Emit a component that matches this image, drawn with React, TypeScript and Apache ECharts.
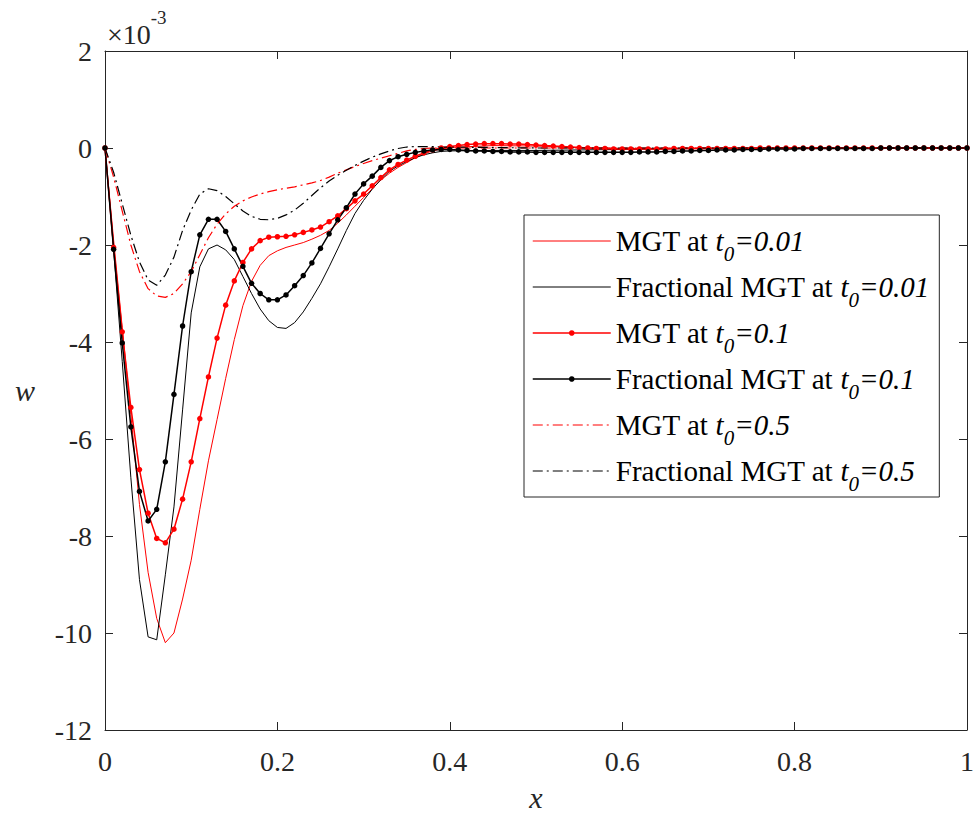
import React, { useEffect, useRef } from "react";
import * as echarts from "echarts";

// values are in units of 1e-3
const FONT = "'Liberation Serif', 'Times New Roman', 'DejaVu Serif', serif";

// sample grid for the marker series (step 0.01)
const xFine: number[] = Array.from({ length: 101 }, (_, i) => Math.round(i) / 100);

// sample grid for the plain-line series
const xCoarse = [
  0, 0.01, 0.02, 0.03, 0.04, 0.05, 0.06, 0.07, 0.08, 0.09,
  0.1, 0.11, 0.12, 0.13, 0.14, 0.15, 0.16, 0.17, 0.18, 0.19,
  0.2, 0.21, 0.22, 0.23, 0.24, 0.25, 0.26, 0.27, 0.28, 0.29,
  0.3, 0.31, 0.32, 0.33, 0.34, 0.35, 0.36, 0.37, 0.38, 0.39,
  0.4, 0.45, 0.5, 0.55, 0.6, 0.65, 0.7, 0.75, 0.8, 0.85, 0.9, 0.95, 1.0,
];

const mgt001 = [
  0, -1.9, -3.7, -5.5, -7.35, -8.75, -9.7, -10.2, -10.0, -9.3,
  -8.5, -7.45, -6.45, -5.6, -4.75, -3.95, -3.25, -2.75, -2.42, -2.22,
  -2.12, -2.05, -2.0, -1.95, -1.88, -1.8, -1.7, -1.55, -1.38, -1.2,
  -1.02, -0.84, -0.66, -0.52, -0.4, -0.3, -0.2, -0.12, -0.06, -0.02,
  0.01, 0.05, 0.04, 0.01, -0.01, -0.01, 0, 0, 0, 0, 0, 0, 0,
];

const frac001 = [
  0, -2.1, -4.4, -6.8, -8.9, -10.08, -10.14, -8.8, -7.4, -5.4,
  -3.4, -2.45, -2.08, -2.0, -2.1, -2.3, -2.65, -3.0, -3.32, -3.56,
  -3.7, -3.72, -3.6, -3.38, -3.1, -2.8, -2.45, -2.08, -1.7, -1.35,
  -1.08, -0.85, -0.65, -0.48, -0.37, -0.28, -0.2, -0.14, -0.1, -0.07,
  -0.06, -0.05, -0.05, -0.04, -0.03, -0.02, -0.01, 0, 0, 0, 0, 0, 0,
];

const mgt01 = [
  0, -2.05, -3.79, -5.35, -6.63, -7.53, -8.05, -8.14, -7.86, -7.24,
  -6.47, -5.58, -4.72, -3.92, -3.24, -2.74, -2.36, -2.08, -1.91, -1.84,
  -1.83, -1.82, -1.79, -1.74, -1.69, -1.63, -1.52, -1.4, -1.25, -1.09,
  -0.95, -0.78, -0.61, -0.45, -0.34, -0.25, -0.17, -0.1, -0.04, 0.0,
  0.03, 0.05, 0.07, 0.08, 0.09, 0.09, 0.09, 0.08, 0.08, 0.07,
  0.06, 0.05, 0.04, 0.03, 0.02, 0.01, 0.0, -0.01, -0.01, -0.02,
  -0.02, -0.02, -0.02, -0.02, -0.02, -0.02, -0.01, -0.01, -0.01, -0.01,
  -0.01, -0.01, -0.01, -0.01, -0.01, -0.01, 0, 0, 0, 0,
  0, 0, 0, 0, 0, 0, 0, 0, 0, 0,
  0, 0, 0, 0, 0, 0, 0, 0, 0, 0, 0,
];

const frac01 = [
  0, -2.09, -4.02, -5.75, -7.08, -7.69, -7.45, -6.47, -5.08, -3.67,
  -2.55, -1.79, -1.47, -1.47, -1.72, -2.08, -2.44, -2.79, -3.0, -3.13,
  -3.13, -3.03, -2.84, -2.63, -2.37, -2.07, -1.77, -1.48, -1.23, -0.95,
  -0.74, -0.58, -0.4, -0.26, -0.18, -0.13, -0.09, -0.06, -0.04, -0.03,
  -0.03, -0.04, -0.05, -0.06, -0.06, -0.07, -0.07, -0.08, -0.08, -0.08,
  -0.09, -0.09, -0.09, -0.09, -0.09, -0.09, -0.09, -0.09, -0.09, -0.09,
  -0.09, -0.09, -0.08, -0.08, -0.08, -0.07, -0.07, -0.06, -0.06, -0.05,
  -0.05, -0.04, -0.04, -0.04, -0.03, -0.03, -0.03, -0.02, -0.02, -0.02,
  -0.02, -0.01, -0.01, -0.01, -0.01, -0.01, -0.01, -0.01, -0.01, -0.01,
  0, 0, 0, 0, 0, 0, 0, 0, 0, 0, 0,
];

const mgt05 = [
  0, -0.6, -1.3, -2.0, -2.55, -2.9, -3.05, -3.08, -3.0, -2.8,
  -2.55, -2.2, -1.85, -1.57, -1.36, -1.2, -1.09, -1.01, -0.95, -0.9,
  -0.86, -0.83, -0.8, -0.76, -0.72, -0.67, -0.6, -0.52, -0.45, -0.38,
  -0.32, -0.26, -0.21, -0.16, -0.11, -0.06, -0.03, -0.01, 0, 0,
  0, 0, 0, 0, 0, 0, 0, 0, 0, 0, 0, 0, 0,
];

const frac05 = [
  0, -0.5, -1.15, -1.8, -2.35, -2.72, -2.83, -2.62, -2.25, -1.7,
  -1.28, -0.95, -0.84, -0.88, -1.0, -1.15, -1.3, -1.41, -1.47, -1.48,
  -1.45, -1.38, -1.28, -1.14, -0.98, -0.82, -0.68, -0.56, -0.46, -0.36,
  -0.27, -0.19, -0.12, -0.06, -0.01, 0.02, 0.03, 0.03, 0.03, 0.02,
  0.02, 0.01, 0, 0, 0, 0, 0, 0, 0, 0, 0, 0, 0,
];

const xTicks = { min: 0, max: 1, interval: 0.2 };
const yTicks = { min: -12, max: 2, interval: 2 };

const names = [
  "MGT at t0=0.01",
  "Fractional MGT at t0=0.01",
  "MGT at t0=0.1",
  "Fractional MGT at t0=0.1",
  "MGT at t0=0.5",
  "Fractional MGT at t0=0.5",
];

const RED = "#ff0000";
const BLACK = "#000000";
const AXIS = "#262626";
const DASHDOT = [10, 4, 2, 4];

const pair = (xs: number[], ys: number[]) => ys.map((y, i) => [xs[i], y]);

export default function App() {
  const ref = useRef<HTMLDivElement>(null);
  useEffect(() => {
    const chart = echarts.init(ref.current!, null, { renderer: "svg" });
    const axisCommon = {
      axisLine: { show: true, onZero: false, lineStyle: { color: AXIS, width: 1 } },
      axisTick: { show: true, inside: true, length: 8, lineStyle: { color: AXIS, width: 1 } },
      splitLine: { show: false },
    };
    const lineSeries = (
      name: string,
      xs: number[],
      ys: number[],
      color: string,
      width: number,
      type: any,
      marker: boolean
    ) => ({
      name,
      type: "line",
      data: pair(xs, ys),
      smooth: false,
      symbol: marker ? "circle" : "none",
      symbolSize: 5.5,
      showSymbol: marker,
      itemStyle: { color },
      lineStyle: { color, width, type },
      emphasis: { disabled: true },
      silent: true,
    });
    const legendFormatter = (name: string) => {
      const idx = name.indexOf("t0=");
      const pre = name.slice(0, idx);
      const post = name.slice(idx + 2);
      return `${pre}{t|t}{s|0}{t|${post}}`;
    };
    chart.setOption({
      animation: false,
      backgroundColor: "#ffffff",
      grid: { left: 105, right: 9, top: 51, bottom: 86, containLabel: false },
      xAxis: [
        {
          type: "value",
          position: "bottom",
          ...xTicks,
          ...axisCommon,
          axisLabel: { margin: 17, fontFamily: FONT, fontSize: 28, color: AXIS },
          name: "x",
          nameLocation: "middle",
          nameGap: 52,
          nameTextStyle: { fontFamily: FONT, fontStyle: "italic", fontSize: 30, color: AXIS },
        },
        {
          type: "value",
          position: "top",
          ...xTicks,
          ...axisCommon,
          axisLabel: { show: false },
        },
      ],
      yAxis: [
        {
          type: "value",
          position: "left",
          ...yTicks,
          ...axisCommon,
          axisLabel: { margin: 13, fontFamily: FONT, fontSize: 28, color: AXIS },
          name: "w",
          nameLocation: "middle",
          nameRotate: 0,
          nameGap: 70,
          nameTextStyle: { fontFamily: FONT, fontStyle: "italic", fontSize: 30, color: AXIS },
        },
        {
          type: "value",
          position: "right",
          ...yTicks,
          ...axisCommon,
          axisLabel: { show: false },
        },
      ],
      legend: {
        orient: "vertical",
        left: 524,
        top: 215,
        backgroundColor: "#ffffff",
        borderColor: AXIS,
        borderWidth: 1,
        borderRadius: 0,
        padding: [3, 10, 3, 8],
        itemWidth: 78,
        itemHeight: 7,
        itemGap: 0,
        selectedMode: false,
        formatter: legendFormatter,
        textStyle: {
          fontFamily: FONT,
          fontSize: 29,
          color: "#000",
          lineHeight: 46,
          rich: {
            t: { fontFamily: FONT, fontSize: 29, fontStyle: "italic", color: "#000", lineHeight: 46 },
            s: {
              fontFamily: FONT,
              fontSize: 21,
              fontStyle: "italic",
              color: "#000",
              lineHeight: 20,
              verticalAlign: "bottom",
            },
          },
        },
        data: [
          { name: names[0], itemStyle: { opacity: 0 }, lineStyle: { width: 1 } },
          { name: names[1], itemStyle: { opacity: 0 }, lineStyle: { width: 1 } },
          { name: names[2], lineStyle: { width: 1.5 } },
          { name: names[3], lineStyle: { width: 1.5 } },
          { name: names[4], itemStyle: { opacity: 0 }, lineStyle: { width: 1.2 } },
          { name: names[5], itemStyle: { opacity: 0 }, lineStyle: { width: 1.2 } },
        ],
      },
      graphic: [
        {
          type: "text",
          left: 107,
          top: 8,
          silent: true,
          style: {
            text: "{a|×10}{b|-3}",
            rich: {
              a: { fontFamily: FONT, fontSize: 28, fill: AXIS, lineHeight: 40, verticalAlign: "bottom" },
              b: { fontFamily: FONT, fontSize: 19, fill: AXIS, lineHeight: 22, verticalAlign: "top" },
            },
          },
        },
      ],
      series: [
        lineSeries(names[0], xCoarse, mgt001, RED, 1, "solid", false),
        lineSeries(names[1], xCoarse, frac001, BLACK, 1, "solid", false),
        lineSeries(names[2], xFine, mgt01, RED, 1.5, "solid", true),
        lineSeries(names[3], xFine, frac01, BLACK, 1.5, "solid", true),
        lineSeries(names[4], xCoarse, mgt05, RED, 1.2, DASHDOT, false),
        lineSeries(names[5], xCoarse, frac05, BLACK, 1.2, DASHDOT, false),
      ],
    });
    return () => chart.dispose();
  }, []);
  return (
    <div
      ref={ref}
      style={{ position: "absolute", left: 0, top: 0, width: 977, height: 817, background: "#fff" }}
    />
  );
}
